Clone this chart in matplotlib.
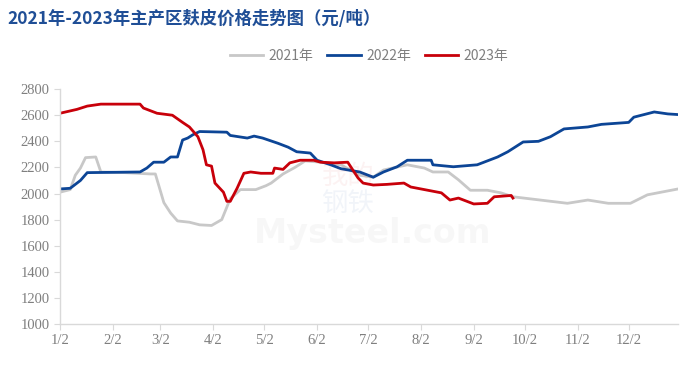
import matplotlib
matplotlib.use('Agg')
import matplotlib.pyplot as plt

plt.rcParams['font.family'] = ['Noto Sans CJK SC', 'DejaVu Sans']

# 横轴为一年中的第几天
days_2021 = [2, 8, 11, 14, 17, 23, 26, 40, 55, 58, 63, 67, 71, 78, 84, 91, 97, 102, 108, 117,
             123, 126, 133, 140, 146, 155, 167, 178, 186, 192, 206, 216, 221, 230, 236, 243,
             253, 261, 268, 284, 300, 312, 324, 337, 347, 365]
price_2021 = [2010, 2030, 2140, 2195, 2275, 2280, 2165, 2160, 2150, 2150, 1930, 1850, 1790, 1780,
              1760, 1755, 1800, 1960, 2030, 2030, 2060, 2080, 2150, 2200, 2250, 2240, 2220, 2140,
              2125, 2180, 2220, 2195, 2165, 2165, 2105, 2025, 2025, 2005, 1975, 1950, 1925, 1950,
              1925, 1925, 1990, 2035]

days_2022 = [2, 8, 14, 18, 49, 53, 57, 63, 67, 71, 74, 77, 80, 84, 100, 102, 112, 116, 121, 130,
             136, 141, 149, 153, 161, 167, 178, 186, 192, 200, 206, 220, 221, 233, 247, 251, 259,
             265, 274, 283, 290, 298, 312, 320, 336, 339, 351, 359, 365]
price_2022 = [2035, 2040, 2100, 2160, 2165, 2195, 2240, 2240, 2280, 2280, 2410, 2425, 2450, 2475,
              2470, 2445, 2425, 2440, 2425, 2385, 2355, 2320, 2310, 2255, 2220, 2190, 2165, 2125,
              2165, 2205, 2255, 2255, 2220, 2205, 2220, 2240, 2280, 2320, 2395, 2400, 2435, 2495,
              2510, 2530, 2545, 2585, 2625, 2610, 2605]

days_2023 = [2, 12, 18, 26, 49, 51, 59, 68, 74, 78, 83, 86, 88, 91, 93, 98, 100, 102, 106, 110,
             114, 120, 127, 128, 133, 137, 143, 151, 155, 163, 171, 177, 180, 186, 194, 204, 208,
             218, 226, 231, 236, 239, 245, 253, 257, 267, 268]
price_2023 = [2615, 2645, 2670, 2685, 2685, 2655, 2615, 2600, 2545, 2510, 2435, 2335, 2220, 2210,
              2080, 2010, 1940, 1940, 2040, 2155, 2165, 2155, 2155, 2195, 2185, 2235, 2255, 2255,
              2240, 2235, 2240, 2120, 2080, 2065, 2070, 2080, 2050, 2025, 2005, 1950, 1965, 1950,
              1920, 1925, 1975, 1985, 1965]

tick_days = [2, 33, 61, 92, 122, 153, 183, 214, 245, 275, 306, 336]
tick_labels = ['1/2', '2/2', '3/2', '4/2', '5/2', '6/2', '7/2', '8/2', '9/2', '10/2', '11/2', '12/2']
y_ticks = list(range(1000, 2801, 200))

fig = plt.figure(figsize=(7, 3.74), dpi=100)
ax = fig.add_axes([0.0857, 0.1337, 0.883, 0.628])

# 水印
fig.text(0.497, 0.528, '我的', fontsize=19, color='#d23030', alpha=0.06, ha='center', va='center')
fig.text(0.497, 0.455, '钢铁', fontsize=19, color='#2050a0', alpha=0.06, ha='center', va='center')
fig.text(0.533, 0.375, 'Mysteel.com', fontsize=24, color='#808080', alpha=0.06,
         ha='center', va='center', fontweight='bold', family='DejaVu Sans')

ax.plot(days_2021, price_2021, color='#c8c8c8', lw=2.0, label='2021年')
ax.plot(days_2022, price_2022, color='#0c4596', lw=2.0, label='2022年')
ax.plot(days_2023, price_2023, color='#c8000a', lw=2.0, label='2023年')

ax.set_xlim(2, 365)
ax.set_ylim(1000, 2800)
ax.set_xticks(tick_days)
ax.set_xticklabels(tick_labels)
ax.set_yticks(y_ticks)

for s in ['top', 'right']:
    ax.spines[s].set_visible(False)
for s in ['left', 'bottom']:
    ax.spines[s].set_color('#d9d9d9')
    ax.spines[s].set_linewidth(1.0)

ax.tick_params(axis='both', colors='#d9d9d9', labelcolor='#7f7f7f', labelsize=10.5, length=4)
for lab in ax.get_xticklabels() + ax.get_yticklabels():
    lab.set_family('Liberation Serif')

leg = ax.legend(loc='lower center', bbox_to_anchor=(0.5, 1.06), ncol=3, frameon=False,
                fontsize=10, handlelength=2.4, columnspacing=1.0, handletextpad=0.4)
for t in leg.get_texts():
    t.set_color('#7f7f7f')

fig.text(0.011, 0.95, '2021年-2023年主产区麸皮价格走势图（元/吨）', fontsize=12.5,
         fontweight='bold', color='#1f4e96', va='center', ha='left')

fig.savefig('out.png', dpi=100)
